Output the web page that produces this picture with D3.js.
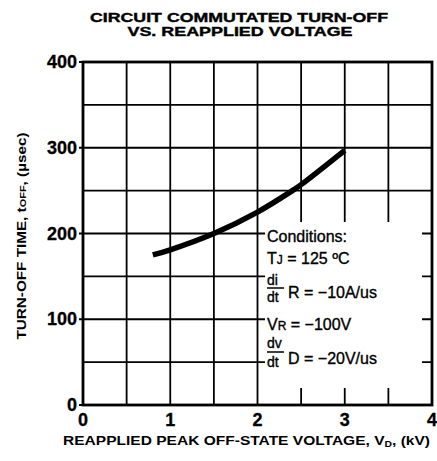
<!DOCTYPE html>
<html><head><meta charset="utf-8">
<script src="https://cdn.jsdelivr.net/npm/d3@7"></script>
<style>body{margin:0;background:#fff}svg{display:block}</style>
</head><body>
<script>
const voltageKV = [0.8, 1.0, 1.5, 2.0, 2.4, 2.5, 3.0];
const turnOffUs = [175, 181, 200, 225, 250, 257, 297];
const xTickValues = [0, 1, 2, 3, 4];
const yTickValues = [0, 100, 200, 300, 400];
const xGridValues = [0.5, 1, 1.5, 2, 2.5, 3, 3.5];
const yGridValues = [50, 100, 150, 200, 250, 300, 350];
const titleLines = ["CIRCUIT COMMUTATED TURN-OFF", "VS. REAPPLIED VOLTAGE"];

const W = 437, H = 461;
const svg = d3.select("body").append("svg").attr("width", W).attr("height", H);
const x = d3.scaleLinear().domain([0, 4]).range([83, 432]);
const y = d3.scaleLinear().domain([0, 400]).range([405, 62]);
const F = "'Liberation Sans', Arial, Helvetica, sans-serif";

// title
svg.append("text").attr("x", 239).attr("y", 22).attr("text-anchor", "middle")
  .attr("font-family", F).attr("font-weight", "bold").attr("font-size", 13)
  .attr("stroke", "#000").attr("stroke-width", 0.4)
  .attr("textLength", 298).attr("lengthAdjust", "spacingAndGlyphs").text(titleLines[0]);
svg.append("text").attr("x", 240).attr("y", 36).attr("text-anchor", "middle")
  .attr("font-family", F).attr("font-weight", "bold").attr("font-size", 13)
  .attr("stroke", "#000").attr("stroke-width", 0.4)
  .attr("textLength", 225).attr("lengthAdjust", "spacingAndGlyphs").text(titleLines[1]);

// grid
const g = svg.append("g");
g.selectAll(".vg").data(xGridValues).join("line")
  .attr("x1", d => x(d)).attr("x2", d => x(d)).attr("y1", y(400)).attr("y2", y(0))
  .attr("stroke", "#000").attr("stroke-width", 1.8);
g.selectAll(".hg").data(yGridValues).join("line")
  .attr("x1", x(0)).attr("x2", x(4)).attr("y1", d => y(d)).attr("y2", d => y(d))
  .attr("stroke", "#000").attr("stroke-width", 1.8);

// white box for conditions
svg.append("rect").attr("x", 265).attr("y", 222).attr("width", 157).attr("height", 166).attr("fill", "#fff");

// frame
svg.append("rect").attr("x", x(0)).attr("y", y(400)).attr("width", x(4) - x(0)).attr("height", y(0) - y(400))
  .attr("fill", "none").attr("stroke", "#000").attr("stroke-width", 2.8);

// y axis ticks (outward)
svg.selectAll(".yt").data(yTickValues).join("line")
  .attr("x1", x(0) - 4).attr("x2", x(0)).attr("y1", d => y(d)).attr("y2", d => y(d))
  .attr("stroke", "#000").attr("stroke-width", 2);

// tick labels
svg.selectAll(".ytl").data(yTickValues).join("text")
  .attr("x", 77).attr("y", d => y(d) + 6).attr("text-anchor", "end")
  .attr("font-family", F).attr("font-weight", "bold").attr("font-size", 18)
  .attr("stroke", "#000").attr("stroke-width", 0.3)
  .text(d => d);
svg.selectAll(".xtl").data(xTickValues).join("text")
  .attr("x", d => x(d)).attr("y", 426).attr("text-anchor", "middle")
  .attr("font-family", F).attr("font-weight", "bold").attr("font-size", 18)
  .attr("stroke", "#000").attr("stroke-width", 0.3)
  .text(d => d);

// x axis title
const xt = svg.append("text").attr("x", 63).attr("y", 445)
  .attr("font-family", F).attr("font-weight", "bold").attr("font-size", 13.5)
  .attr("textLength", 367).attr("lengthAdjust", "spacingAndGlyphs");
xt.append("tspan").text("REAPPLIED PEAK OFF-STATE VOLTAGE, V");
xt.append("tspan").attr("font-size", 9).attr("dy", 2).text("D");
xt.append("tspan").attr("dy", -2).text(", (kV)");

// y axis title
const yt = svg.append("text").attr("transform", "translate(26,236) rotate(-90)")
  .attr("text-anchor", "middle")
  .attr("font-family", F).attr("font-weight", "bold").attr("font-size", 12.5)
  .attr("textLength", 207).attr("lengthAdjust", "spacingAndGlyphs");
yt.append("tspan").text("TURN-OFF TIME, t");
yt.append("tspan").attr("font-size", 9).text("OFF");
yt.append("tspan").text(", (µsec)");

// curve
const pts = voltageKV.map((v, i) => [v, turnOffUs[i]]);
svg.append("path").datum(pts)
  .attr("d", d3.line().x(d => x(d[0])).y(d => y(d[1])).curve(d3.curveCatmullRom))
  .attr("fill", "none").attr("stroke", "#000").attr("stroke-width", 5.5);

// conditions
const C = svg.append("g").attr("font-family", F).attr("font-size", 16).attr("fill", "#000")
  .attr("stroke", "#000").attr("stroke-width", 0.35);
C.append("text").attr("x", 267).attr("y", 242).text("Conditions:");
const t2 = C.append("text").attr("x", 267).attr("y", 264);
t2.append("tspan").text("T");
t2.append("tspan").attr("font-size", 12).text("J");
t2.append("tspan").text(" = 125 ºC");
C.append("text").attr("x", 267).attr("y", 285).attr("font-size", 14).text("di");
C.append("line").attr("x1", 267).attr("x2", 284).attr("y1", 288).attr("y2", 288).attr("stroke-width", 1.5);
C.append("text").attr("x", 267).attr("y", 302).attr("font-size", 14).text("dt");
C.append("text").attr("x", 288).attr("y", 298).text("R = −10A/us");
const t4 = C.append("text").attr("x", 267).attr("y", 330);
t4.append("tspan").text("V");
t4.append("tspan").attr("font-size", 12).text("R");
t4.append("tspan").text(" = −100V");
C.append("text").attr("x", 267).attr("y", 348).attr("font-size", 14).text("dv");
C.append("line").attr("x1", 267).attr("x2", 284).attr("y1", 352).attr("y2", 352).attr("stroke-width", 1.5);
C.append("text").attr("x", 267).attr("y", 367).attr("font-size", 14).text("dt");
C.append("text").attr("x", 288).attr("y", 364).text("D = −20V/us");
</script>
</body></html>
